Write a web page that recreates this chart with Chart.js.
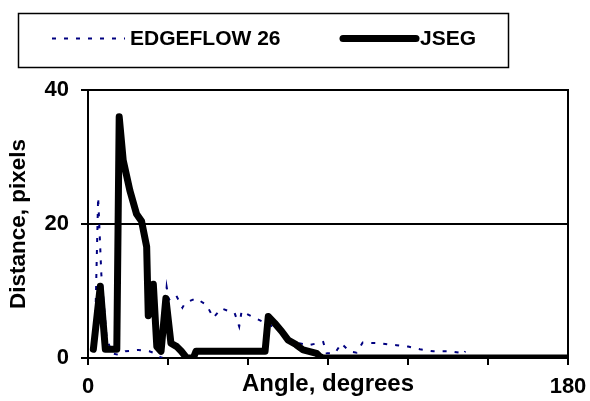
<!DOCTYPE html>
<html>
<head>
<meta charset="utf-8">
<script src="https://cdn.jsdelivr.net/npm/chart.js@4/dist/chart.umd.min.js"></script>
<style>
html,body{margin:0;padding:0;background:#fff;}
#wrap{width:590px;height:401px;position:relative;}
</style>
</head>
<body>
<div id="wrap"><canvas id="c" width="590" height="401"></canvas></div>
<script>
// ---- data ----
const seriesNames = ['EDGEFLOW 26', 'JSEG'];
const edgeAngles = [2.5, 3.8, 5.0, 7.0, 9.0, 11.2, 14.0, 18.8, 23.0, 25.0, 27.5, 29.5, 30.3, 33.0, 35.4, 36.4, 40.5, 44.5, 47.0, 50.0, 55.0, 56.7, 57.6, 61.4, 65.7, 68.0, 72.0, 77.0, 82.6, 88.2, 89.5, 92.6, 95.0, 98.0, 100.7, 103.0, 109.5, 115.7, 120.0, 124.5, 129.5, 135.7, 139.5, 140.7, 141.5];
const edgeValues = [1.2, 24.0, 12.5, 3.0, 0.7, 0.5, 1.0, 1.2, 1.0, 0.7, 0.0, 10.6, 8.7, 9.4, 7.5, 8.2, 8.9, 7.9, 6.0, 7.4, 6.7, 4.7, 7.0, 6.2, 5.4, 5.0, 4.0, 2.4, 1.9, 2.4, 0.7, 0.7, 2.2, 1.0, 0.8, 2.3, 2.2, 1.9, 1.7, 1.3, 1.0, 1.0, 0.8, 0.5, 1.0];
const jsegAngles = [2.0, 4.6, 6.5, 10.8, 11.7, 13.2, 15.7, 18.2, 20.1, 22.0, 22.6, 24.5, 25.8, 27.4, 29.2, 31.1, 33.3, 35.0, 37.0, 39.5, 40.5, 66.4, 67.6, 70.0, 72.6, 75.0, 78.0, 80.7, 85.7, 87.0, 88.0, 180.0];
const jsegValues = [1.3, 10.7, 1.3, 1.3, 36.0, 29.5, 25.0, 21.5, 20.4, 16.6, 6.3, 11.0, 1.7, 1.0, 8.9, 2.2, 1.7, 1.0, 0.0, 0.0, 1.0, 1.0, 6.2, 5.2, 4.0, 2.7, 2.0, 1.2, 0.7, 0.2, 0.0, 0.0];
const xTickLabels = {0: '0', 180: '180'};
const xTitle = 'Angle, degrees';
const yTitle = 'Distance, pixels';

const FONT = "'Liberation Sans', Arial, Helvetica, sans-serif";
Chart.defaults.font.family = FONT;
Chart.defaults.color = '#000';

const toPts = (xs, ys) => xs.map((x, i) => ({x: x, y: ys[i]}));

const frameAndLegend = {
  id: 'frameAndLegend',
  afterDatasetsDraw(chart) {
    const {ctx, chartArea: a} = chart;
    ctx.save();
    ctx.strokeStyle = '#000';
    ctx.lineWidth = 2;
    ctx.beginPath();
    ctx.moveTo(a.left, a.top);
    ctx.lineTo(a.right, a.top);
    ctx.lineTo(a.right, a.bottom);
    ctx.stroke();
    ctx.restore();
  },
  afterDraw(chart) {
    const ctx = chart.ctx;
    ctx.save();
    ctx.strokeStyle = '#000';
    ctx.lineWidth = 1.5;
    ctx.strokeRect(18.5, 13.5, 490, 54);
    const items = [
      {ds: chart.data.datasets[0], x0: 52, x1: 125, tx: 130},
      {ds: chart.data.datasets[1], x0: 343, x1: 416, tx: 420}
    ];
    const cy = 38.5;
    items.forEach(it => {
      ctx.save();
      ctx.strokeStyle = it.ds.borderColor;
      ctx.lineWidth = it.ds.borderWidth;
      ctx.setLineDash(it.ds.borderDash || []);
      ctx.lineCap = it.ds.borderCapStyle || 'butt';
      ctx.beginPath();
      ctx.moveTo(it.x0, cy);
      ctx.lineTo(it.x1, cy);
      ctx.stroke();
      ctx.restore();
      ctx.fillStyle = '#000';
      ctx.font = 'bold 21px ' + FONT;
      ctx.textBaseline = 'middle';
      ctx.textAlign = 'left';
      ctx.fillText(it.ds.label, it.tx, cy + 1);
    });
    ctx.restore();
  }
};

new Chart(document.getElementById('c'), {
  type: 'line',
  data: {
    datasets: [
      {
        label: seriesNames[0],
        data: toPts(edgeAngles, edgeValues),
        borderColor: '#000080',
        borderWidth: 2,
        borderDash: [4, 8],
        pointRadius: 0,
        tension: 0,
        fill: false,
        order: 1
      },
      {
        label: seriesNames[1],
        data: toPts(jsegAngles, jsegValues),
        borderColor: '#000',
        borderWidth: 7,
        borderJoinStyle: 'round',
        borderCapStyle: 'round',
        pointRadius: 0,
        tension: 0,
        fill: false,
        order: 0
      }
    ]
  },
  options: {
    responsive: false,
    animation: false,
    events: [],
    layout: {padding: {top: 90, left: 0, right: 22, bottom: 0}},
    plugins: {legend: {display: false}, tooltip: {enabled: false}},
    scales: {
      x: {
        type: 'linear',
        min: 0, max: 180,
        afterFit: s => { s.height = 43; s.paddingRight = 0; s.paddingLeft = 0; },
        ticks: {
          stepSize: 30,
          autoSkip: false,
          maxRotation: 0,
          padding: 9,
          font: {size: 22, weight: 'bold'},
          callback: v => (xTickLabels[v] !== undefined ? xTickLabels[v] : '')
        },
        grid: {display: true, drawOnChartArea: false, drawTicks: true, tickLength: 7, color: '#000', lineWidth: 2},
        border: {display: true, color: '#000', width: 2},
        title: {display: true, text: xTitle, font: {size: 24, weight: 'bold'}, padding: {top: 0, bottom: 2}}
      },
      y: {
        min: 0, max: 40,
        afterFit: s => { s.width = 88; },
        ticks: {stepSize: 20, padding: 12, font: {size: 22, weight: 'bold'}},
        grid: {display: true, drawOnChartArea: true, drawTicks: true, tickLength: 7, color: '#000', lineWidth: 2},
        border: {display: true, color: '#000', width: 2},
        title: {display: true, text: yTitle, font: {size: 22.5, weight: 'bold'}, padding: {top: 5, bottom: 0}}
      }
    }
  },
  plugins: [frameAndLegend]
});
</script>
</body>
</html>
